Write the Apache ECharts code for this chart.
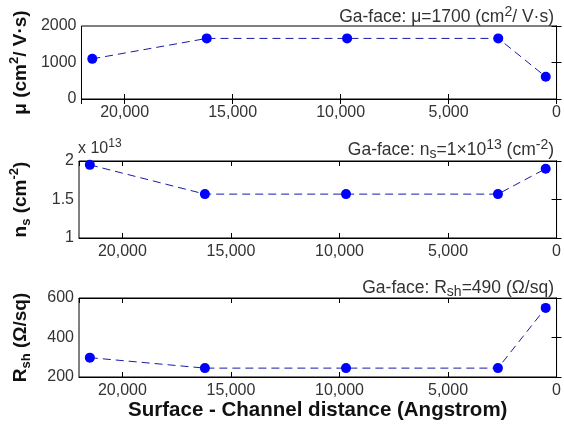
<!DOCTYPE html>
<html>
<head>
<meta charset="utf-8">
<script src="https://cdn.jsdelivr.net/npm/echarts@6/dist/echarts.min.js"></script>
<style>
  html, body { margin: 0; padding: 0; background: #fff; }
  #chart { width: 564px; height: 430px; }
</style>
</head>
<body>
<div id="chart"></div>
<script>
// distance from surface to channel (Angstrom)
const distance = [21500, 16200, 9700, 2700, 500];
// mobility (cm^2/V.s)
const mobility = [1100, 1660, 1660, 1660, 610];
// sheet density (x 1e13 cm^-2)
const density = [1.95, 1.57, 1.57, 1.57, 1.9];
// sheet resistance (ohm/sq)
const resistance = [298, 245, 245, 245, 550];

const xTicks = [0, 5000, 10000, 15000, 20000];

const chart = echarts.init(document.getElementById("chart"));

const FONT = "Liberation Sans, Arial, sans-serif";
const INK = "#333";
const DARK = "#111";

const grids = [
  { left: 79, right: 7, top: 26, height: 73 },
  { left: 79, right: 7, top: 161, height: 77 },
  { left: 79, right: 7, top: 298, height: 79 },
];

// rich text styles for super / subscripts
function rich(size, bold, color, ratio) {
  const w = bold ? "bold" : "normal";
  const small = Math.round(size * (ratio || 0.68));
  return {
    t: { fontSize: size, lineHeight: size + 6, fontFamily: FONT, color: color, fontWeight: w },
    sup: { fontSize: small, lineHeight: small, verticalAlign: "top", fontFamily: FONT, color: color, fontWeight: w },
    sub: { fontSize: small, lineHeight: small, verticalAlign: "bottom", fontFamily: FONT, color: color, fontWeight: w },
  };
}

function xAxes(gi) {
  const common = {
    type: "value",
    gridIndex: gi,
    min: 0,
    max: 22000,
    interval: 5000,
    inverse: true,
    splitLine: { show: false },
    axisLine: { show: true, lineStyle: { color: "#000", width: 1 } },
    axisTick: { show: true, inside: true, length: 5, lineStyle: { color: "#000" } },
  };
  const bottom = Object.assign({}, common, {
    position: "bottom",
    axisLabel: {
      show: true,
      margin: 6,
      fontSize: 16,
      fontFamily: FONT,
      color: INK,
      showMaxLabel: false,
      formatter: (v) => (xTicks.includes(v) ? v.toLocaleString("en-US") : ""),
    },
  });
  if (gi === 2) {
    Object.assign(bottom, {
      name: "Surface - Channel distance (Angstrom)",
      nameLocation: "middle",
      nameGap: 20,
      nameTextStyle: { fontSize: 20.5, fontWeight: "bold", fontFamily: FONT, color: DARK },
    });
  }
  const top = Object.assign({}, common, { position: "top", axisLabel: { show: false } });
  return [bottom, top];
}

function yAxes(gi, min, max, interval, name) {
  const common = {
    type: "value",
    gridIndex: gi,
    min: min,
    max: max,
    interval: interval,
    splitLine: { show: false },
    axisLine: { show: true, lineStyle: { color: "#000", width: 1 } },
    axisTick: { show: true, inside: true, length: 5, lineStyle: { color: "#000" } },
  };
  const left = Object.assign({}, common, {
    position: "left",
    name: name,
    nameLocation: "middle",
    nameGap: 46,
    nameRotate: 90,
    nameTextStyle: { rich: rich(19, true, DARK), fontSize: 19, fontWeight: "bold", fontFamily: FONT, color: DARK },
    axisLabel: { margin: 5, fontSize: 16, fontFamily: FONT, color: INK, formatter: (v) => String(v) },
  });
  const right = Object.assign({}, common, { position: "right", axisLabel: { show: false } });
  return [left, right];
}

const seriesStyle = (data, gi) => ({
  type: "line",
  xAxisIndex: gi * 2,
  yAxisIndex: gi * 2,
  data: distance.map((d, i) => [d, data[i]]),
  symbol: "circle",
  symbolSize: 10,
  itemStyle: { color: "#0000ff" },
  lineStyle: { color: "#1a1aaa", width: 1, type: [8, 5] },
  animation: false,
});

const titleStyle = { rich: rich(17.5, false, INK, 0.78), fontSize: 17.5, fontWeight: "normal" };

const option = {
  animation: false,
  backgroundColor: "#fff",
  title: [
    { text: "{t|Ga-face: μ=1700 (cm}{sup|2}{t|/ V·s)}", right: 5, top: 0, textStyle: titleStyle },
    { text: "{t|Ga-face: n}{sub|s}{t|=1×10}{sup|13}{t| (cm}{sup|-2}{t|)}", right: 5, top: 133, textStyle: titleStyle },
    { text: "{t|Ga-face: R}{sub|sh}{t|=490 (Ω/sq)}", right: 5, top: 271, textStyle: titleStyle },
    { text: "{t|x 10}{sup|13}", left: 73, top: 133, textStyle: { rich: rich(16, false, INK, 0.75), fontSize: 16 } },
  ],
  grid: grids.map((g) => Object.assign({ show: true, borderColor: "#000", borderWidth: 1, backgroundColor: "#fff" }, g)),
  xAxis: [].concat(xAxes(0), xAxes(1), xAxes(2)),
  yAxis: [].concat(
    yAxes(0, 0, 2000, 1000, "{t|μ (cm}{sup|2}{t|/ V·s)}"),
    yAxes(1, 1, 2, 0.5, "{t|n}{sub|s}{t| (cm}{sup|-2}{t|)}"),
    yAxes(2, 200, 600, 200, "{t|R}{sub|sh}{t| (Ω/sq)}")
  ),
  series: [seriesStyle(mobility, 0), seriesStyle(density, 1), seriesStyle(resistance, 2)],
};

chart.setOption(option);
</script>
</body>
</html>
